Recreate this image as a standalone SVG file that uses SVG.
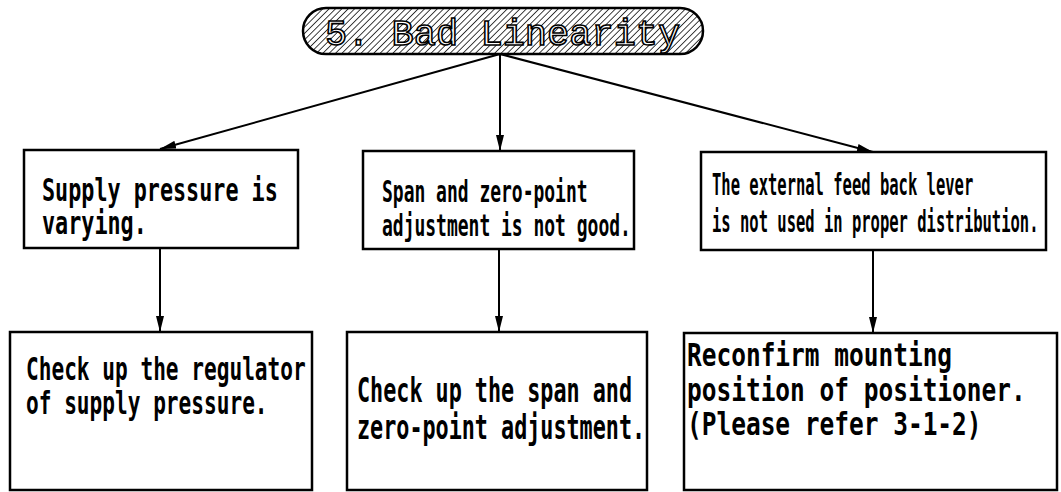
<svg xmlns="http://www.w3.org/2000/svg" width="1061" height="492" viewBox="0 0 1061 492">
  <defs>
    <pattern id="hatch" width="4.5" height="4.5" patternUnits="userSpaceOnUse" patternTransform="rotate(45)">
      <rect width="4.5" height="4.5" fill="#fff"/>
      <line x1="0" y1="0" x2="0" y2="4.5" stroke="#000" stroke-width="1.5"/>
    </pattern>
    <marker id="arrow" viewBox="0 0 16 8" refX="16" refY="4" markerWidth="16" markerHeight="8" markerUnits="userSpaceOnUse" orient="auto">
      <path d="M0,0 L16,4 L0,8 Z" fill="#000"/>
    </marker>
  </defs>
  <style>
    .box { fill: #fff; stroke: #000; stroke-width: 2.5; }
    .label { font-family: "DejaVu Sans Mono", "Liberation Mono", monospace; font-weight: bold; font-size: 34px; fill: #000; }
    .mid { font-size: 32px; }
    .small { font-size: 31px; }
    .title { font-family: "Liberation Mono", "DejaVu Sans Mono", monospace; font-size: 37px; fill: #fff; stroke: #000; stroke-width: 1.6; }
    .conn { stroke: #000; stroke-width: 2; fill: none; marker-end: url(#arrow); }
  </style>
  <rect width="1061" height="492" fill="#fff"/>

  <g id="title">
    <rect x="303" y="8" width="400" height="46" rx="23" ry="23" fill="url(#hatch)" stroke="#000" stroke-width="2.5"/>
    <text class="title" x="325" y="45">5. Bad Linearity</text>
  </g>

  <g id="connectors">
    <line class="conn" x1="500" y1="54" x2="160" y2="149"/>
    <line class="conn" x1="500" y1="54" x2="500" y2="151"/>
    <line class="conn" x1="500" y1="54" x2="873" y2="152"/>
    <line class="conn" x1="160" y1="248" x2="160" y2="332"/>
    <line class="conn" x1="499" y1="249" x2="499" y2="332"/>
    <line class="conn" x1="873" y1="250" x2="873" y2="333"/>
  </g>

  <!-- monospaced labels, narrowed horizontally per box -->
  <g id="cause-supply">
    <rect class="box" x="24" y="150" width="274" height="98"/>
    <text class="label mid" transform="translate(42,201) scale(0.68,1)">Supply pressure is</text>
    <text class="label mid" transform="translate(42,234) scale(0.68,1)">varying.</text>
  </g>

  <g id="cause-span">
    <rect class="box" x="363" y="151" width="271" height="98"/>
    <text class="label small" transform="translate(382,202) scale(0.58,1)">Span and zero-point</text>
    <text class="label small" transform="translate(382,236) scale(0.58,1)">adjustment is not good.</text>
  </g>

  <g id="cause-lever">
    <rect class="box" x="701" y="152" width="345" height="98"/>
    <text class="label small" transform="translate(712,195) scale(0.5,1)">The external feed back lever</text>
    <text class="label small" transform="translate(712,232) scale(0.5,1)">is not used in proper distribution.</text>
  </g>

  <g id="action-regulator">
    <rect class="box" x="10" y="332" width="302" height="158"/>
    <text class="label mid" transform="translate(26,380) scale(0.66,1)">Check up the regulator</text>
    <text class="label mid" transform="translate(26,414) scale(0.66,1)">of supply pressure.</text>
  </g>

  <g id="action-span">
    <rect class="box" x="347" y="332" width="300" height="158"/>
    <text class="label" transform="translate(357,402) scale(0.64,1)">Check up the span and</text>
    <text class="label" transform="translate(357,439) scale(0.64,1)">zero-point adjustment.</text>
  </g>

  <g id="action-mounting">
    <rect class="box" x="684" y="333" width="373" height="157"/>
    <text class="label mid" transform="translate(687,366) scale(0.765,1)">Reconfirm mounting</text>
    <text class="label mid" transform="translate(687,401) scale(0.765,1)">position of positioner.</text>
    <text class="label mid" transform="translate(687,435) scale(0.765,1)">(Please refer 3-1-2)</text>
  </g>
</svg>
